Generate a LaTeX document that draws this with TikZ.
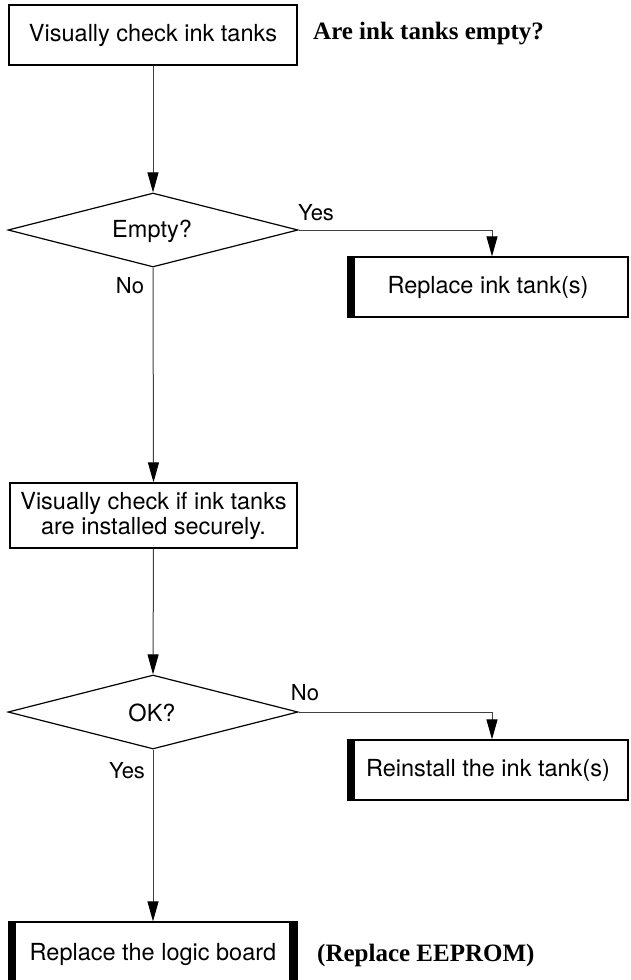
\documentclass[tikz,border=0pt]{standalone}
\usepackage{fontspec}
\setmainfont{TeX Gyre Heros}
\newfontfamily\serifbold{Liberation Serif}
\usetikzlibrary{shapes.geometric,arrows.meta}
\begin{document}
\begin{tikzpicture}[x=1pt,y=-1pt,
  every node/.style={font=\fontsize{23.5}{25}\selectfont, inner sep=0pt},
  box/.style={draw, line width=1.2pt, rectangle, align=center},
  dia/.style={draw, line width=1.2pt, diamond},
  conn/.style={line width=1pt, draw=black!75, -{Triangle[length=20pt,width=11pt,color=black,fill=black]}},
  lbl/.style={font=\fontsize{22}{23}\selectfont},
  note/.style={font=\serifbold\bfseries\fontsize{25}{27}\selectfont, anchor=west},
  barleft/.style={path picture={\fill (path picture bounding box.north west) rectangle ([xshift=7pt]path picture bounding box.south west);}},
  barboth/.style={path picture={\fill (path picture bounding box.north west) rectangle ([xshift=7pt]path picture bounding box.south west);
     \fill (path picture bounding box.north east) rectangle ([xshift=-8pt]path picture bounding box.south east);}}]
\useasboundingbox (0,0) rectangle (630,980);
\clip (0,0) rectangle (630,980);

\node[box, minimum width=288pt, minimum height=60pt] (b1) at (153,35) {Visually check ink tanks};
\node[note] (n1) at (313,34) {Are ink tanks empty?};

\node[dia, minimum width=290pt, minimum height=74pt] (d1) at (153,230) {};
\node (t1) at (152,231) {Empty?};
\node[lbl] (y1) at (316,213) {Yes};
\node[lbl] (no1) at (130,286) {No};

\node[box, barleft, minimum width=280pt, minimum height=60pt] (r1) at (488,287) {Replace ink tank(s)};

\node[box, minimum width=287pt, minimum height=65pt] (b2) at (153.5,515.5) {Visually check if ink tanks\\are installed securely.};

\node[dia, minimum width=290pt, minimum height=74pt] (d2) at (153,712) {};
\node (t2) at (152,713) {OK?};
\node[lbl] (no2) at (305,693) {No};
\node[lbl] (y2) at (127,771) {Yes};

\node[box, barleft, minimum width=280pt, minimum height=60pt] (r2) at (488,770) {Reinstall the ink tank(s)};

\node[box, barboth, minimum width=288pt, minimum height=64pt] (b3) at (153,954) {Replace the logic board};
\node[note] (n2) at (317,955) {(Replace EEPROM)};

\draw[conn] (b1.south) -- (d1.north);
\draw[conn] (d1.east) -| ([xshift=4pt]r1.north);
\draw[conn] (d1.south) -- (b2.north);
\draw[conn] (b2.south) -- (d2.north);
\draw[conn] (d2.east) -| ([xshift=4pt]r2.north);
\draw[conn] (d2.south) -- (b3.north);
\end{tikzpicture}
\end{document}
